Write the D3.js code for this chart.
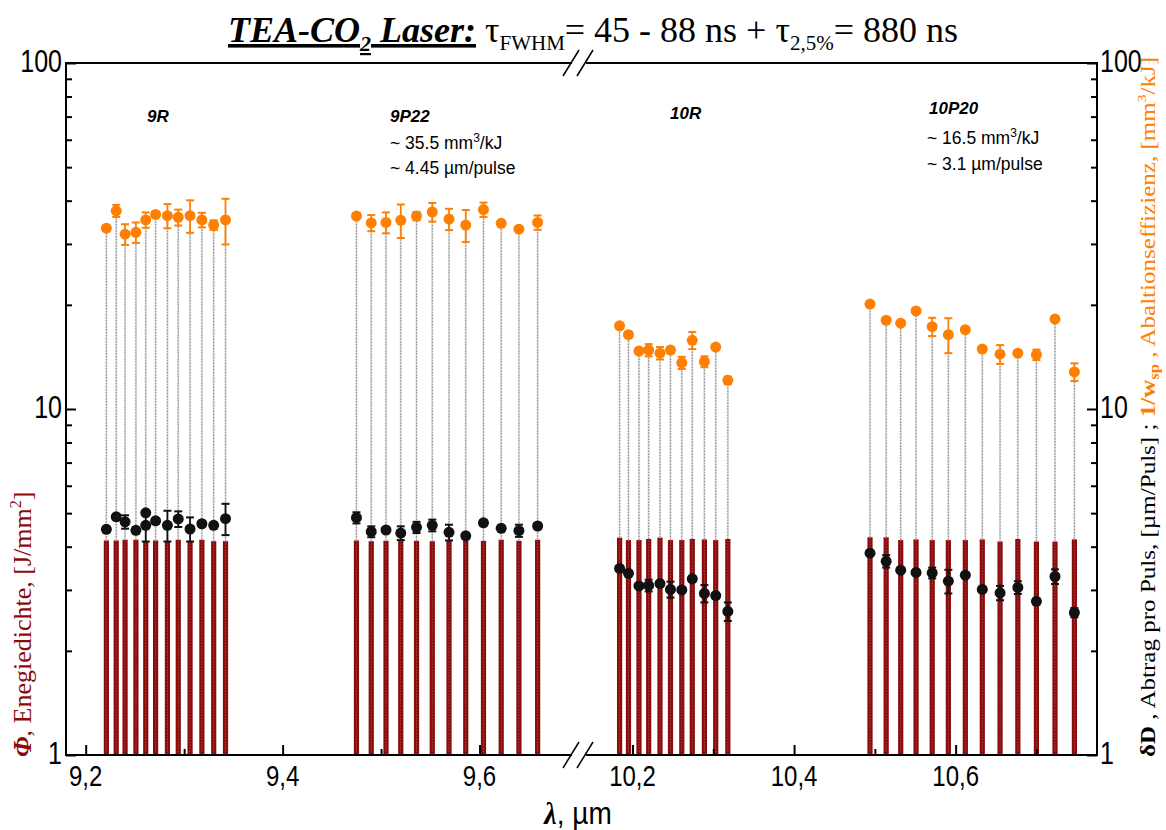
<!DOCTYPE html>
<html><head><meta charset="utf-8">
<script src="https://cdn.jsdelivr.net/npm/d3@7"></script>
<style>body{margin:0;background:#fff}svg{display:block}</style>
</head><body>
<svg id="chart" width="1166" height="830"></svg>
<script>
// Laser lines (µm): 9R, 9P, 10R and 10P branches
const wavelength = [
  9.221, 9.231, 9.240, 9.251, 9.261, 9.271, 9.283, 9.294, 9.306, 9.318, 9.330, 9.342,
  9.475, 9.490, 9.505, 9.520, 9.536, 9.552, 9.569, 9.586, 9.604, 9.622, 9.640, 9.659,
  10.184, 10.195, 10.208, 10.220, 10.234, 10.247, 10.261, 10.274, 10.289, 10.303, 10.318,
  10.494, 10.514, 10.532, 10.551, 10.571, 10.591, 10.612, 10.633, 10.655, 10.677, 10.700, 10.723, 10.747
];
// Energy density Φ, J/mm²
const fluence = [
  4.17, 4.17, 4.19, 4.19, 4.15, 4.17, 4.15, 4.19, 4.15, 4.19, 4.15, 4.15,
  4.17, 4.15, 4.16, 4.16, 4.16, 4.15, 4.16, 4.16, 4.16, 4.19, 4.16, 4.19,
  4.25, 4.18, 4.18, 4.21, 4.25, 4.18, 4.18, 4.21, 4.20, 4.18, 4.21,
  4.26, 4.26, 4.18, 4.20, 4.18, 4.18, 4.18, 4.20, 4.14, 4.21, 4.14, 4.14, 4.20
];
// Ablation efficiency 1/w_sp, mm³/kJ
const efficiency = [
  33.3, 37.4, 32.0, 32.4, 35.2, 36.5, 36.2, 35.8, 36.2, 35.2, 34.0, 35.2,
  36.1, 34.5, 34.6, 35.1, 36.1, 37.1, 35.4, 34.0, 37.7, 34.4, 33.1, 34.6,
  17.4, 16.4, 14.7, 14.8, 14.5, 14.8, 13.6, 15.8, 13.7, 15.1, 12.1,
  20.1, 18.05, 17.7, 19.2, 17.3, 16.4, 16.95, 14.9, 14.4, 14.5, 14.35, 18.2, 12.8
];
const efficiencyErr = [
  0.6, 1.5, 2.2, 2.2, 1.8, 0.4, 2.9, 1.9, 3.9, 1.7, 1.1, 5.3,
  0.4, 1.85, 2.4, 3.9, 1.0, 2.3, 2.5, 3.6, 1.8, 0.3, 0.3, 1.65,
  0.3, 0.3, 0.2, 0.6, 0.6, 0.2, 0.55, 0.9, 0.5, 0.2, 0.3,
  0.2, 0.2, 0.2, 0.2, 1.05, 1.9, 0.2, 0.2, 0.9, 0.2, 0.5, 0.3, 0.75
];
// Ablation per pulse δD, µm/pulse
const ablation = [
  4.49, 4.88, 4.72, 4.46, 4.61, 4.75, 4.61, 4.81, 4.50, 4.66, 4.61, 4.82,
  4.85, 4.42, 4.47, 4.38, 4.55, 4.61, 4.40, 4.30, 4.69, 4.52, 4.45, 4.59,
  3.46, 3.35, 3.08, 3.09, 3.13, 3.01, 3.00, 3.23, 2.93, 2.89, 2.60,
  3.83, 3.63, 3.42, 3.37, 3.36, 3.18, 3.31, 3.01, 2.94, 3.05, 2.78, 3.28, 2.58
];
const ablationErr = [
  0.08, 0.08, 0.21, 0.08, 0.47, 0.08, 0.47, 0.25, 0.36, 0.08, 0.08, 0.5,
  0.18, 0.16, 0.08, 0.2, 0.17, 0.18, 0.23, 0.08, 0.08, 0.08, 0.18, 0.08,
  0.05, 0.05, 0.05, 0.12, 0.05, 0.16, 0.05, 0.05, 0.17, 0.05, 0.16,
  0.05, 0.15, 0.05, 0.05, 0.12, 0.25, 0.05, 0.05, 0.14, 0.13, 0.05, 0.16, 0.08
];
// Repeated measurement on 9R line
const extraAblationWl = [9.261];
const extraAblation = [5.01];

const xTicksLeft = [9.2, 9.4, 9.6];
const xMinorLeft = [9.3, 9.5];
const xTicksRight = [10.2, 10.4, 10.6];
const xMinorRight = [10.3, 10.5, 10.7];
const yTicks = [1, 10, 100];
const fmtComma = d => d.toFixed(1).replace(".", ",");

const svg = d3.select("#chart");
const W = 1166, H = 830;
const L = 66, R = 1097, T = 63, B = 755;
const gapL = 572, gapR = 586;

svg.append("rect").attr("width", W).attr("height", H).attr("fill", "#fff");

const xL = d3.scaleLinear().domain([9.18, 9.70]).range([L, 578]);
const xR = d3.scaleLinear().domain([10.135, 10.775]).range([580, R]);
const x = w => (w < 10 ? xL(w) : xR(w));
const y = d3.scaleLog().domain([1, 100]).range([B, T]);

const idx = d3.range(wavelength.length);
const SANS = "'Liberation Sans', Arial, sans-serif";
const SERIF = "'Liberation Serif', 'Times New Roman', serif";
const RED = "#8b0a0a", ORANGE = "#ff8000";

// energy density bars
const bars = svg.append("g");
bars.selectAll("rect").data(idx).join("rect")
  .attr("x", i => x(wavelength[i]) - 2.6)
  .attr("width", 5.2)
  .attr("y", i => y(fluence[i]))
  .attr("height", i => y(1) - y(fluence[i]))
  .attr("fill", RED);
bars.selectAll("line").data(idx).join("line")
  .attr("x1", i => x(wavelength[i])).attr("x2", i => x(wavelength[i]))
  .attr("y1", y(1)).attr("y2", i => y(fluence[i]))
  .attr("stroke", "#a84848").attr("stroke-width", 1).attr("stroke-dasharray", "1.5,1.5");

// drop lines from bar top to efficiency marker
const drops = svg.append("g");
drops.selectAll("line.bg").data(idx).join("line").attr("class", "bg")
  .attr("x1", i => x(wavelength[i])).attr("x2", i => x(wavelength[i]))
  .attr("y1", i => y(fluence[i])).attr("y2", i => y(efficiency[i]))
  .attr("stroke", "#e2e2e2").attr("stroke-width", 2.2);
drops.selectAll("line.dot").data(idx).join("line").attr("class", "dot")
  .attr("x1", i => x(wavelength[i])).attr("x2", i => x(wavelength[i]))
  .attr("y1", i => y(fluence[i])).attr("y2", i => y(efficiency[i]))
  .attr("stroke", "#8a8a8a").attr("stroke-width", 1.1).attr("stroke-dasharray", "1.5,1.5");

// error bars + markers
function series(vals, errs, color) {
  const g = svg.append("g");
  g.selectAll("line.e").data(idx).join("line").attr("class", "e")
    .attr("x1", i => x(wavelength[i])).attr("x2", i => x(wavelength[i]))
    .attr("y1", i => y(vals[i] + errs[i])).attr("y2", i => y(vals[i] - errs[i]))
    .attr("stroke", color).attr("stroke-width", 1.8);
  ["p", "m"].forEach(s => {
    const v = i => (s === "p" ? vals[i] + errs[i] : vals[i] - errs[i]);
    g.selectAll("line.c" + s).data(idx).join("line").attr("class", "c" + s)
      .attr("x1", i => x(wavelength[i]) - 4).attr("x2", i => x(wavelength[i]) + 4)
      .attr("y1", i => y(v(i))).attr("y2", i => y(v(i)))
      .attr("stroke", color).attr("stroke-width", 2);
  });
  g.selectAll("circle").data(idx).join("circle")
    .attr("cx", i => x(wavelength[i])).attr("cy", i => y(vals[i]))
    .attr("r", 5.5).attr("fill", color);
}
series(efficiency, efficiencyErr, ORANGE);
series(ablation, ablationErr, "#111");
svg.append("g").selectAll("circle").data(extraAblation).join("circle")
  .attr("cx", (d, i) => x(extraAblationWl[i])).attr("cy", d => y(d))
  .attr("r", 5.5).attr("fill", "#111");

// frame with axis break
const frame = svg.append("g").attr("stroke", "#000").attr("stroke-width", 2).attr("fill", "none");
frame.append("line").attr("x1", L).attr("x2", L).attr("y1", T).attr("y2", B);
frame.append("line").attr("x1", R).attr("x2", R).attr("y1", T).attr("y2", B);
[T, B].forEach(yy => {
  frame.append("line").attr("x1", L - 1).attr("x2", gapL).attr("y1", yy).attr("y2", yy);
  frame.append("line").attr("x1", gapR).attr("x2", R + 1).attr("y1", yy).attr("y2", yy);
  [gapL - 4, gapR - 4].forEach(bx => {
    frame.append("line").attr("x1", bx - 5).attr("y1", yy + 13).attr("x2", bx + 11).attr("y2", yy - 13)
      .attr("stroke-width", 1.5);
  });
});

// y axes ticks (inward)
const yMinor = [2,3,4,5,6,7,8,9,20,30,40,50,60,70,80,90];
function yAxis(gen, xpos, vals, size) {
  const g = svg.append("g").attr("transform", `translate(${xpos},0)`)
    .call(gen(y).tickValues(vals).tickSize(size).tickFormat(""));
  g.select(".domain").remove();
  g.selectAll("line").attr("stroke", "#000").attr("stroke-width", 2);
}
yAxis(d3.axisRight, L, yTicks, 10);
yAxis(d3.axisRight, L, yMinor, 6);
yAxis(d3.axisLeft, R, yTicks, 10);
yAxis(d3.axisLeft, R, yMinor, 6);

// x axis ticks (inward)
function xAxis(scale, vals, size) {
  const g = svg.append("g").attr("transform", `translate(0,${B})`)
    .call(d3.axisTop(scale).tickValues(vals).tickSize(size).tickFormat(""));
  g.select(".domain").remove();
  g.selectAll("line").attr("stroke", "#000").attr("stroke-width", 2);
}
xAxis(xL, xTicksLeft, 10); xAxis(xL, xMinorLeft, 6);
xAxis(xR, xTicksRight, 10); xAxis(xR, xMinorRight, 6);

// stretched tick labels
function label(txt, px, py, anchor, size) {
  svg.append("text").attr("transform", `translate(${px},${py}) scale(1,1.22)`)
    .attr("text-anchor", anchor).attr("font-family", SANS).attr("font-size", size)
    .attr("fill", "#000").text(txt);
}
xTicksLeft.forEach(v => label(fmtComma(v), xL(v), 786, "middle", 24));
xTicksRight.forEach(v => label(fmtComma(v), xR(v), 786, "middle", 24));
yTicks.forEach(v => label(String(v), L - 4, y(v) + 9, "end", 25));
yTicks.forEach(v => label(String(v), R + 3, y(v) + 9, "start", 25));

// x title
const xt = svg.append("text").attr("transform", "translate(578,824) scale(1,1.1)").attr("text-anchor", "middle")
  .attr("font-family", SANS).attr("font-size", 28);
xt.append("tspan").attr("font-family", SERIF).attr("font-weight", "bold").attr("font-style", "italic").text("λ");
xt.append("tspan").text(", µm");

// left y title
const lt = svg.append("text").attr("transform", `translate(31,757) rotate(-90)`)
  .attr("font-family", SERIF).attr("font-size", 26).attr("fill", RED);
lt.append("tspan").attr("font-weight", "bold").attr("font-style", "italic").text("Φ");
lt.append("tspan").text(", Enegiedichte, [J/mm");
lt.append("tspan").attr("dy", -10).attr("font-size", 16).text("2");
lt.append("tspan").attr("dy", 10).text("]");

// right y title
const rt = svg.append("text").attr("transform", `translate(1155,757) rotate(-90)`)
  .attr("font-family", SERIF).attr("font-size", 21).attr("fill", "#000")
  .attr("textLength", 700).attr("lengthAdjust", "spacingAndGlyphs");
rt.append("tspan").attr("font-weight", "bold").text("δD");
rt.append("tspan").text(" , Abtrag pro Puls,  [µm/Puls] ;  ");
rt.append("tspan").attr("font-weight", "bold").attr("fill", ORANGE).text("1/w");
rt.append("tspan").attr("font-weight", "bold").attr("fill", ORANGE).attr("dy", 4).attr("font-size", 14).text("sp");
rt.append("tspan").attr("fill", ORANGE).attr("dy", -4).text(" , Abaltionseffizienz,  [mm");
rt.append("tspan").attr("fill", ORANGE).attr("dy", -9).attr("font-size", 13).text("3");
rt.append("tspan").attr("fill", ORANGE).attr("dy", 9).text("/kJ]");

// title
const tt = svg.append("text").attr("x", 228).attr("y", 42).attr("font-family", SERIF).attr("font-size", 36);
const tb = () => tt.append("tspan").attr("font-weight", "bold").attr("font-style", "italic").attr("text-decoration", "underline");
tb().text("TEA-CO");
tb().attr("dy", 9).attr("font-size", 22).text("2");
tb().attr("dy", -9).text(" Laser:");
tt.append("tspan").text(" τ");
tt.append("tspan").attr("dy", 8).attr("font-size", 21).text("FWHM");
tt.append("tspan").attr("dy", -8).text("= 45 - 88 ns + τ");
tt.append("tspan").attr("dy", 8).attr("font-size", 21).text("2,5%");
tt.append("tspan").attr("dy", -8).text("= 880 ns");

// group annotations
function groupText(txt, px, py) {
  svg.append("text").attr("x", px).attr("y", py).attr("font-family", SANS)
    .attr("font-size", 17).attr("font-weight", "bold").attr("font-style", "italic").text(txt);
}
groupText("9R", 147, 122);
groupText("9P22", 390, 122);
groupText("10R", 670, 119);
groupText("10P20", 929, 114);
function note(parts, px, py) {
  const t = svg.append("text").attr("x", px).attr("y", py).attr("font-family", SANS).attr("font-size", 17.5);
  parts.forEach(p => {
    const s = t.append("tspan").text(p.t);
    if (p.sup) s.attr("dy", -7).attr("font-size", 12);
    if (p.down) s.attr("dy", 7);
  });
}
note([{t: "~ 35.5 mm"}, {t: "3", sup: true}, {t: "/kJ", down: true}], 390, 149);
note([{t: "~ 4.45 µm/pulse"}], 390, 174);
note([{t: "~ 16.5 mm"}, {t: "3", sup: true}, {t: "/kJ", down: true}], 927, 144);
note([{t: "~ 3.1 µm/pulse"}], 927, 170);
</script>
</body></html>
